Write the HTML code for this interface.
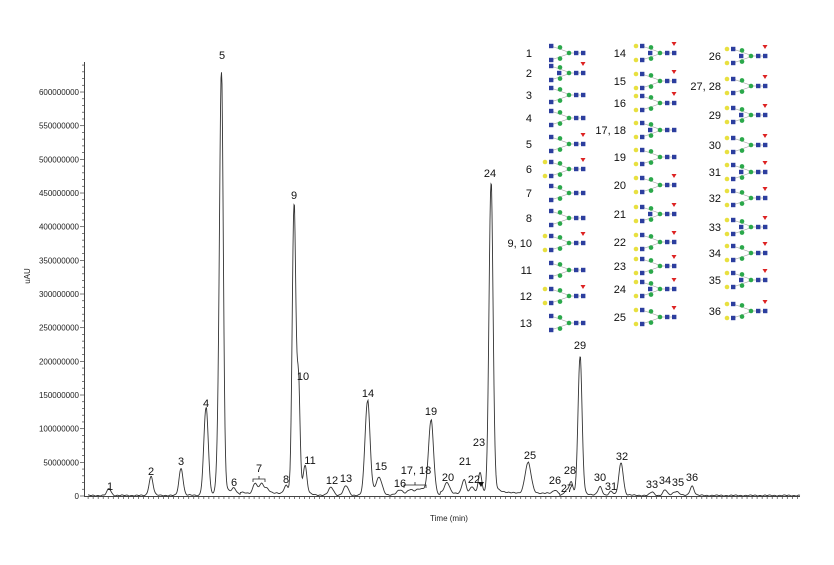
<!DOCTYPE html>
<html><head><meta charset="utf-8"><style>
body{margin:0;background:#fff}
svg{display:block;font-family:"Liberation Sans",Arial,sans-serif}
</style></head><body>
<svg id="s" width="834" height="565" viewBox="0 0 834 565" xmlns="http://www.w3.org/2000/svg">
<rect width="834" height="565" fill="#fff"/>
<g id="ax" stroke="#444" stroke-width="1" fill="none"></g>
<g id="lab" font-size="8" fill="#222"></g>
<path id="tr" fill="none" stroke="#333" stroke-width="0.9"/>
<g id="pk" font-size="11" fill="#111" text-anchor="middle"></g>
<g id="leg"></g>
<text x="30" y="276" font-size="8" fill="#222" transform="rotate(-90 30 276)" text-anchor="middle">uAU</text>
<text x="449" y="521" font-size="8" fill="#222" text-anchor="middle">Time (min)</text>
</svg>
<script>
const NS="http://www.w3.org/2000/svg";
function el(p,t,a,txt){const e=document.createElementNS(NS,t);for(const k in a)e.setAttribute(k,a[k]);if(txt!==undefined)e.textContent=txt;p.appendChild(e);return e;}
const ax=document.getElementById('ax'),lab=document.getElementById('lab');
const Y0=496,PY=0.6733,X12=100.7,PX=25.15;
el(ax,'line',{x1:84.5,y1:62,x2:84.5,y2:Y0});
el(ax,'line',{x1:84,y1:Y0+0.5,x2:800,y2:Y0+0.5});
for(let v=0;v<=640;v+=10){const y=Y0-v*PY;el(ax,'line',{x1:v%50==0?80:82,y1:y,x2:84.5,y2:y,'stroke-width':0.7});
 if(v%50==0)el(lab,'text',{x:79,y:y+3,'text-anchor':'end'},v==0?'0':String(v*1000000));}
for(let t=11.5;t<=39.8;t+=0.2){const x=X12+(t-12)*PX;const maj=Math.abs(t-Math.round(t))<0.01&&Math.round(t)%2==0;
 el(ax,'line',{x1:x,y1:Y0,x2:x,y2:Y0+(maj?5:3),'stroke-width':0.7});
 if(maj)el(lab,'text',{x:x,y:Y0+14,'text-anchor':'middle'},String(Math.round(t)));}
const P=[[109,10,2],[151,28,2],[181,40,2],[206,130,2.2],[221.5,585,1.8],[219,90,2],[234,8,2],[255,15,2],[261,12,2],[266,8,3],[286,12,2],
[294,430,1.8],[298.5,160,1.5],[305,40,1.8],[331,12,2.5],[346,14,2.5],[367.5,140,2.5],[379,25,3],[400,8,3],[410,8,3],[418,8,3],[424,8,3],
[431,110,2.5],[447,15,2.5],[464,20,2],[472,10,2],[480,30,1.8],[491,460,2],[528,45,3],[555,5,2],[566,6,2],[571,20,2],[580,205,2],
[600,12,2],[611,6,2],[621,48,2.2],[652,5,2],[665,8,2],[676,6,3],[692,14,2]];
let d="";
for(let x=88;x<=800;x+=0.5){let v=0.8+0.5*Math.sin(x*1.3)+0.4*Math.sin(x*0.37);
 if(x>440&&x<560)v+=3;if(x>240&&x<290)v+=3;
 for(const p of P){const z=(x-p[0])/p[2];v+=p[1]*Math.exp(-0.5*z*z)+(z>0?p[1]*0.03*Math.exp(-z/4):0);}
 d+=(x==88?"M":"L")+x+","+(Y0-v*PY).toFixed(1);}
document.getElementById('tr').setAttribute('d',d);
const pk=document.getElementById('pk');
const L=[["1",110,490],["2",151,475],["3",181,465],["4",206,407],["5",222,59],["6",234,486],["7",259,472],["8",286,483],["9",294,199],["10",303,380],["11",310,464],["12",332,484],["13",346,482],["14",368,397],["15",381,470],["16",400,487],["17, 18",416,474],["19",431,415],["20",448,481],["21",465,465],["22",474,483],["23",479,446],["24",490,177],["25",530,459],["26",555,484],["27",567,492],["28",570,474],["29",580,349],["30",600,481],["31",611,490],["32",622,460],["33",652,488],["34",665,484],["35",678,486],["36",692,481]];
for(const l of L)el(pk,'text',{x:l[1],y:l[2]},l[0]);
el(pk,'path',{d:"M253,482 v-3 h12 v3 M259,479 v-3",fill:"none",stroke:"#222","stroke-width":0.8});
el(pk,'path',{d:"M404,488 v-3 h22 v3 M415,485 v-3",fill:"none",stroke:"#222","stroke-width":0.8});
el(pk,'path',{d:"M478,482 l6,0 l-3,5z",fill:"#111"});
const leg=document.getElementById('leg');
function glycan(x,y,fuc,gal,bis){
 const g=el(leg,'g',{});
 const B="#2c3e9e",G="#2aa84a",Yc="#e8e040",R="#d22";
 el(g,'line',{x1:x,y1:y-7,x2:x+20,y2:y,stroke:"#999","stroke-width":0.6});
 el(g,'line',{x1:x,y1:y+7,x2:x+20,y2:y,stroke:"#999","stroke-width":0.6});
 el(g,'line',{x1:x+20,y1:y,x2:x+32,y2:y,stroke:"#999","stroke-width":0.6});
 for(const dy of[-7,7]){
  if(gal)el(g,'circle',{cx:x-6,cy:y+dy,r:2.3,fill:Yc});
  el(g,'rect',{x:x-2,y:y+dy-2.2,width:4.4,height:4.4,fill:B});
  el(g,'circle',{cx:x+9,cy:y+dy*0.8,r:2.3,fill:G});}
 el(g,'circle',{cx:x+18,cy:y,r:2.3,fill:G});
 if(bis)el(g,'rect',{x:x+6,y:y-2.2,width:4.4,height:4.4,fill:B});
 el(g,'rect',{x:x+23,y:y-2.2,width:4.4,height:4.4,fill:B});
 el(g,'rect',{x:x+30,y:y-2.2,width:4.4,height:4.4,fill:B});
 if(fuc)el(g,'path',{d:`M${x+29.5},${y-11} h5 l-2.5,4z`,fill:R});
}
function num(x,y,t){el(leg,'text',{x:x,y:y+4,'font-size':11,'text-anchor':'end',fill:"#111"},t);}
const c1=[["1",53],["2",73],["3",95],["4",118],["5",144],["6",169],["7",193],["8",218],["9, 10",243],["11",270],["12",296],["13",323]];
c1.forEach((r,i)=>{num(532,r[1],r[0]);glycan(551,r[1],[1,4,5,8,10].includes(i),[5,8,10,12].includes(i),i==1);});
const c2=[["14",53],["15",81],["16",103],["17, 18",130],["19",157],["20",185],["21",214],["22",242],["23",266],["24",289],["25",317]];
c2.forEach((r,i)=>{num(626,r[1],r[0]);glycan(642,r[1],i!=3&&i!=4,true,i%3==0);});
const c3=[["26",56],["27, 28",86],["29",115],["30",145],["31",172],["32",198],["33",227],["34",253],["35",280],["36",311]];
c3.forEach((r,i)=>{num(721,r[1],r[0]);glycan(733,r[1],true,true,i%2==0);});
</script>
</body></html>
